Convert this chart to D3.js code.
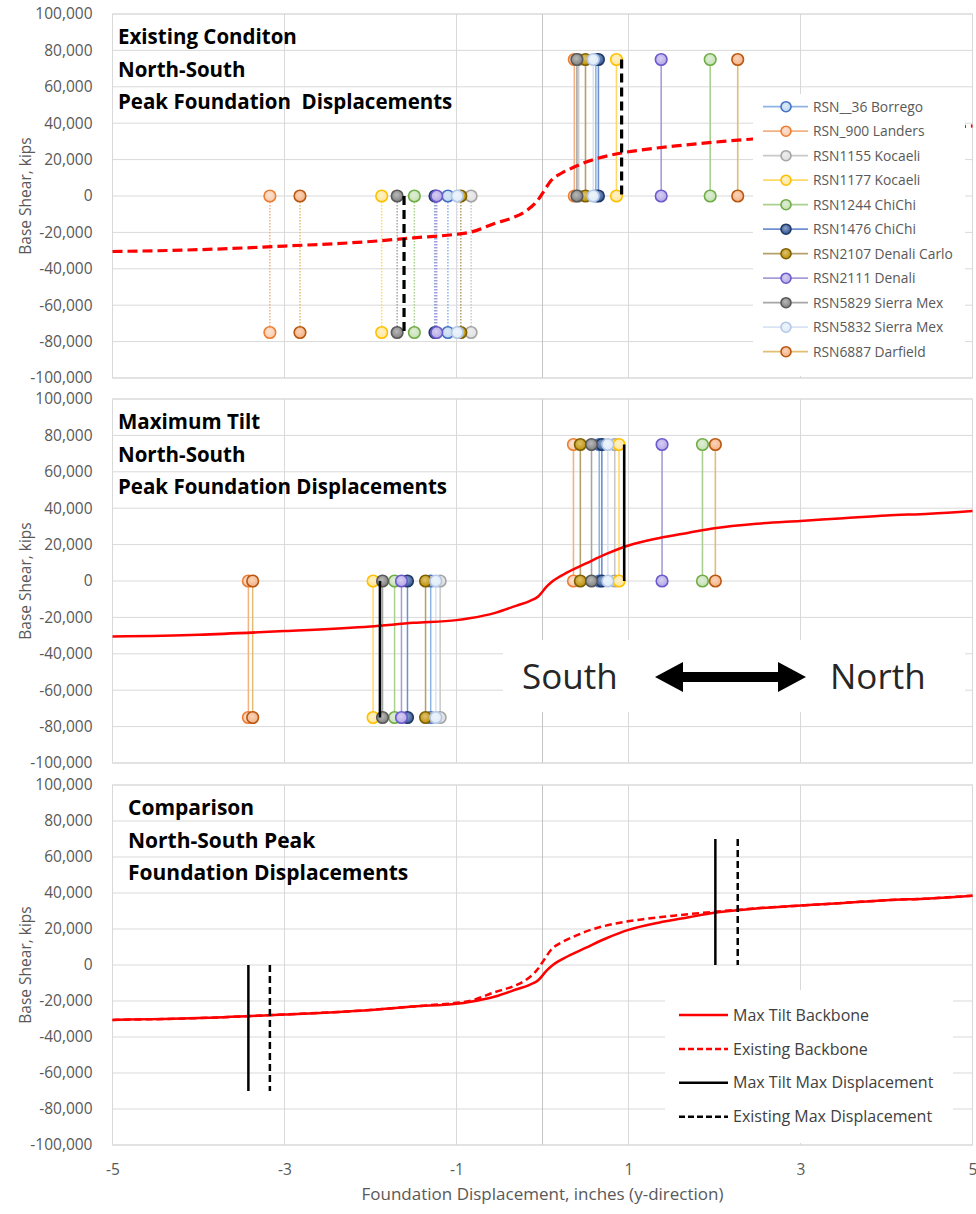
<!DOCTYPE html>
<html><head><meta charset="utf-8">
<script src="https://cdn.jsdelivr.net/npm/d3@7"></script>
<style>body{margin:0;background:#fff} svg{display:block} text{font-family:"Open Sans",sans-serif}</style>
</head><body><svg id="c" width="976" height="1214"></svg>
<script>
// ---------- data ----------
const seriesNames = ["RSN__36 Borrego","RSN_900 Landers","RSN1155 Kocaeli","RSN1177 Kocaeli","RSN1244 ChiChi","RSN1476 ChiChi","RSN2107 Denali Carlo","RSN2111 Denali","RSN5829 Sierra Mex","RSN5832 Sierra Mex","RSN6887 Darfield"];
const lineColors   = ["#8eb4e3","#f4b183","#c9c9c9","#ffd966","#a9d18e","#6f8fcf","#b59f6a","#a99bd8","#a6a6a6","#dae3f3","#e0c070"];
const markerStroke = ["#4472c4","#ed7d31","#a5a5a5","#ffc000","#70ad47","#1f3864","#7f6000","#6a5acd","#595959","#b4c7e7","#b9560f"];
const markerFill   = ["#bdd7ee","#f8cbad","#dedede","#ffe699","#c5e0b4","#2f5597","#bf9000","#b4a7e5","#808080","#deebf7","#f4b183"];

// peak foundation displacements (inches) per record
const existingPos = [0.62, 0.37, 0.42, 0.86, 1.95, 0.65, 0.50, 1.38, 0.40, 0.59, 2.27];
const existingNeg = [-1.10, -3.17, -0.83, -1.87, -1.49, -1.25, -0.95, -1.23, -1.69, -0.99, -2.82];
const maxTiltPos  = [0.66, 0.36, 0.84, 0.89, 1.86, 0.69, 0.44, 1.39, 0.57, 0.76, 2.01];
const maxTiltNeg  = [-1.30, -3.42, -1.19, -1.97, -1.72, -1.57, -1.36, -1.64, -1.86, -1.24, -3.37];
const markerShear = [75000, 0, -75000];

// average displacement lines (panels 1, 2) and max displacement lines (panel 3)
const existingAvg = [-1.61, 0.92];
const maxTiltAvg  = [-1.89, 0.95];
const existingMax = [-3.17, 2.27];
const maxTiltMax  = [-3.42, 2.01];
const maxLineShear = 70000;

// backbone curves
const existingBackboneX = [-5,-4,-3,-2,-1.5,-1,-0.85,-0.55,-0.35,-0.2,-0.05,0.02,0.1,0.22,0.35,0.5,0.9,1.15,1.55,2.1,2.5,3,3.5,4,4.5,5];
const existingBackboneY = [-30500,-29500,-27500,-25000,-23000,-21000,-20000,-15000,-12000,-8500,-2000,3000,8500,12500,15500,18500,23500,25300,27500,30000,31500,33000,34500,36000,37000,38500];
const maxTiltBackboneX = [-5,-4,-3,-2,-1.5,-1,-0.85,-0.55,-0.3,-0.15,-0.05,0.05,0.12,0.3,0.5,0.75,1.0,1.35,1.7,2.0,2.5,3,3.5,4,4.5,5];
const maxTiltBackboneY = [-30500,-29500,-27500,-25000,-23000,-21500,-20500,-17500,-13500,-11000,-8500,-3000,0,5000,9500,15000,19500,23500,26500,29000,31500,33000,34500,36000,37000,38500];

const xTicks = [-5,-3,-1,1,3,5];
const xGrid = [-3,-1,0,1,3];
const yTicks = [-100000,-80000,-60000,-40000,-20000,0,20000,40000,60000,80000,100000];

const panelTitles = [
  ["Existing Conditon","North-South","Peak Foundation  Displacements"],
  ["Maximum Tilt","North-South","Peak Foundation Displacements"],
  ["Comparison","North-South Peak","Foundation Displacements"]
];
const legend3Labels = ["Max Tilt Backbone","Existing Backbone","Max Tilt Max Displacement","Existing Max Displacement"];
const xTitle = "Foundation Displacement, inches (y-direction)";
const yTitle = "Base Shear, kips";

// ---------- drawing ----------
const svg = d3.select("#c");
const L = 112.5, R = 972.5;
const x = d3.scaleLinear([-5,5],[L,R]);
const panelBox = [[14,378],[399,763],[785,1145]];
const fmt = d3.formatLocale({decimal:".",thousands:",",grouping:[3],currency:["$",""],minus:"-"}).format(",");

const defs = svg.append("defs");
seriesNames.forEach((n,i)=>{
  const g = defs.append("radialGradient").attr("id","mg"+i).attr("cx","45%").attr("cy","40%").attr("r","60%");
  g.append("stop").attr("offset","0%").attr("stop-color", d3.interpolateRgb(markerFill[i],"#fff")(0.45));
  g.append("stop").attr("offset","100%").attr("stop-color", markerFill[i]);
});

const panels = panelBox.map(([t,b],pi)=>{
  const y = d3.scaleLinear([-100000,100000],[b,t]);
  const g = svg.append("g");
  g.selectAll(".hg").data(yTicks).join("line")
    .attr("x1",L).attr("x2",R).attr("y1",d=>y(d)).attr("y2",d=>y(d))
    .attr("stroke","#d9d9d9").attr("stroke-width",1);
  g.selectAll(".vg").data(xGrid).join("line")
    .attr("x1",d=>x(d)).attr("x2",d=>x(d)).attr("y1",t).attr("y2",b)
    .attr("stroke",d=>d===0?"#c4c4c4":"#d9d9d9").attr("stroke-width",1);
  g.append("rect").attr("x",L).attr("y",t).attr("width",R-L).attr("height",b-t)
    .attr("fill","none").attr("stroke","#d9d9d9");
  const ax = g.append("g").attr("transform",`translate(${L-20},0)`)
    .call(d3.axisLeft(y).tickValues(yTicks).tickSize(0).tickPadding(0).tickFormat(fmt));
  ax.select(".domain").remove();
  ax.selectAll("text").attr("font-family","Open Sans").attr("font-size",15.5).attr("fill","#595959");
  g.append("text").attr("transform",`translate(26,${(t+b)/2}) rotate(-90)`)
    .attr("text-anchor","middle").attr("dy","0.35em").attr("font-size",15.5).attr("fill","#595959").text(yTitle);
  return {g,y,t,b};
});

const lineGen = (y)=>d3.line().x(d=>x(d[0])).y(d=>y(d[1])).curve(d3.curveMonotoneX);
const existingPts = existingBackboneX.map((v,i)=>[v,existingBackboneY[i]]);
const maxTiltPts = maxTiltBackboneX.map((v,i)=>[v,maxTiltBackboneY[i]]);

function drawRecords(p, posArr, negArr, negDotted, backbone, dashed, avg, avgDashed){
  const {g,y} = p;
  seriesNames.forEach((n,i)=>{
    g.append("line").attr("x1",x(posArr[i])).attr("x2",x(posArr[i]))
      .attr("y1",y(markerShear[0])).attr("y2",y(markerShear[1]))
      .attr("stroke",lineColors[i]).attr("stroke-width",1.6);
    g.append("line").attr("x1",x(negArr[i])).attr("x2",x(negArr[i]))
      .attr("y1",y(markerShear[1])).attr("y2",y(markerShear[2]))
      .attr("stroke",lineColors[i]).attr("stroke-width",1.5)
      .attr("stroke-dasharray",negDotted?"1.5,1.5":null);
  });
  g.append("path").datum(backbone).attr("d",lineGen(y)).attr("fill","none")
    .attr("stroke","#ff0000").attr("stroke-width",dashed?3.2:2.5)
    .attr("stroke-dasharray",dashed?"10,5":null);
  seriesNames.forEach((n,i)=>{
    const pts = [[posArr[i],markerShear[0]],[posArr[i],markerShear[1]],[negArr[i],markerShear[1]],[negArr[i],markerShear[2]]];
    g.selectAll(null).data(pts).join("circle")
      .attr("cx",d=>x(d[0])).attr("cy",d=>y(d[1])).attr("r",5.8)
      .attr("fill","url(#mg"+i+")").attr("stroke",markerStroke[i]).attr("stroke-width",1.6);
  });
  g.append("line").attr("x1",x(avg[0])).attr("x2",x(avg[0])).attr("y1",y(0)).attr("y2",y(markerShear[2]))
    .attr("stroke","#000").attr("stroke-width",avgDashed?3.2:2.6).attr("stroke-dasharray",avgDashed?"9,5":null);
  g.append("line").attr("x1",x(avg[1])).attr("x2",x(avg[1])).attr("y1",y(markerShear[0])).attr("y2",y(0))
    .attr("stroke","#000").attr("stroke-width",avgDashed?3.2:2.6).attr("stroke-dasharray",avgDashed?"9,5":null);
}

drawRecords(panels[0], existingPos, existingNeg, true, existingPts, true, existingAvg, true);
drawRecords(panels[1], maxTiltPos, maxTiltNeg, false, maxTiltPts, false, maxTiltAvg, false);

// panel 3
{
  const {g,y} = panels[2];
  g.append("path").datum(existingPts).attr("d",lineGen(y)).attr("fill","none")
    .attr("stroke","#ff0000").attr("stroke-width",2.5).attr("stroke-dasharray","7,4");
  g.append("path").datum(maxTiltPts).attr("d",lineGen(y)).attr("fill","none")
    .attr("stroke","#ff0000").attr("stroke-width",2.5);
  [[maxTiltMax,null],[existingMax,"7,4"]].forEach(([arr,da])=>{
    g.append("line").attr("x1",x(arr[0])).attr("x2",x(arr[0])).attr("y1",y(0)).attr("y2",y(-maxLineShear))
      .attr("stroke","#000").attr("stroke-width",2.5).attr("stroke-dasharray",da);
    g.append("line").attr("x1",x(arr[1])).attr("x2",x(arr[1])).attr("y1",y(maxLineShear)).attr("y2",y(0))
      .attr("stroke","#000").attr("stroke-width",2.5).attr("stroke-dasharray",da);
  });
  g.append("rect").attr("x",665).attr("y",990).attr("width",288).attr("height",153).attr("fill","#fff");
  const styles = [["#ff0000",null],["#ff0000","6,3"],["#000",null],["#000","6,3"]];
  legend3Labels.forEach((lab,i)=>{
    const yy = 1015 + i*33.9;
    g.append("line").attr("x1",679).attr("x2",728).attr("y1",yy).attr("y2",yy)
      .attr("stroke",styles[i][0]).attr("stroke-width",2.5).attr("stroke-dasharray",styles[i][1]);
    g.append("text").attr("x",733).attr("y",yy).attr("dy","0.35em").attr("font-size",16).attr("fill","#404040").text(lab);
  });
  const ax = g.append("g").attr("transform",`translate(0,${1170})`)
    .call(d3.axisBottom(x).tickValues(xTicks).tickSize(0).tickPadding(0).tickFormat(fmt));
  ax.select(".domain").remove();
  ax.selectAll("text").attr("font-family","Open Sans").attr("font-size",15.5).attr("fill","#595959").attr("dy","0.35em");
  g.append("text").attr("x",(L+R)/2).attr("y",1194).attr("dy","0.35em").attr("text-anchor","middle")
    .attr("font-size",17).attr("fill","#595959").text(xTitle);
}

// panel 1 legend
{
  const g = panels[0].g;
  g.append("rect").attr("x",753).attr("y",94).attr("width",212).attr("height",282).attr("fill","#fff");
  seriesNames.forEach((n,i)=>{
    const yy = 106.7 + i*24.5;
    g.append("line").attr("x1",763).attr("x2",808).attr("y1",yy).attr("y2",yy).attr("stroke",lineColors[i]).attr("stroke-width",1.8);
    g.append("circle").attr("cx",786).attr("cy",yy).attr("r",5).attr("fill","url(#mg"+i+")").attr("stroke",markerStroke[i]).attr("stroke-width",1.6);
    g.append("text").attr("x",813).attr("y",yy).attr("dy","0.35em").attr("font-size",13.8).attr("fill","#595959").text(n);
  });
}

// panel 2 direction annotation
{
  const g = panels[1].g;
  g.append("rect").attr("x",503).attr("y",640).attr("width",462).attr("height",72).attr("fill","#fff");
  g.append("text").attr("x",522).attr("y",677).attr("dy","0.35em").attr("font-size",35).attr("fill","#262626").text("South");
  g.append("text").attr("x",830).attr("y",677).attr("dy","0.35em").attr("font-size",35).attr("fill","#262626").text("North");
  const cy = 677, x0 = 655, x1 = 806, hl = 28, hh = 15, sh = 5;
  g.append("path").attr("fill","#000")
    .attr("d",`M${x0},${cy} L${x0+hl},${cy-hh} L${x0+hl},${cy-sh} L${x1-hl},${cy-sh} L${x1-hl},${cy-hh} L${x1},${cy} L${x1-hl},${cy+hh} L${x1-hl},${cy+sh} L${x0+hl},${cy+sh} L${x0+hl},${cy+hh} Z`);
}

// titles
panels.forEach((p,pi)=>{
  panelTitles[pi].forEach((s,li)=>{
    p.g.append("text").attr("x",pi===2?128:118).attr("y",p.t+23+li*32.5).attr("dy","0.35em")
      .attr("font-size",pi===2?21:20.5).attr("font-weight","bold").attr("fill","#000").style("white-space","pre").text(s);
  });
});
</script></body></html>
